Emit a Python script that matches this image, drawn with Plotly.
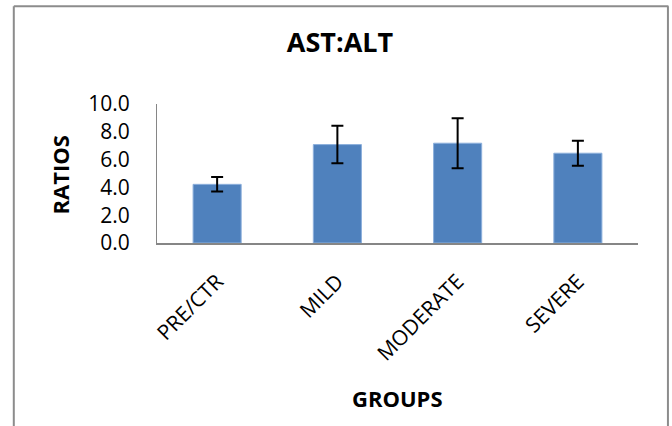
import plotly.graph_objects as go

groups = ["PRE/CTR", "MILD", "MODERATE", "SEVERE"]
ratios = [4.22, 7.08, 7.18, 6.46]
errors = [0.52, 1.35, 1.8, 0.9]

# plot-area geometry in pixels (for layout only)
W, H = 672, 426
L, R, T, B = 156.5, 638.5, 104.0, 243.3
pw, ph = R - L, B - T

def px_x(x):
    return (x - L) / pw

def px_y(y):
    return (B - y) / ph

FONT = "Open Sans"

fig = go.Figure()
fig.add_trace(go.Bar(
    x=groups, y=ratios,
    marker=dict(color="#4F81BD", line=dict(color="#8DB0DC", width=1)),
    error_y=dict(type="data", array=errors, visible=True, color="black", thickness=2, width=6),
    width=0.4,
))

fig.update_layout(
    width=W, height=H,
    margin=dict(l=L, r=W - R, t=T, b=H - B, pad=0),
    paper_bgcolor="white", plot_bgcolor="white",
    showlegend=False,
    font=dict(family=FONT, color="black"),
    title=dict(text="<b>AST:ALT</b>", x=340 / W, xref="container", xanchor="center",
               y=1 - 43 / H, yref="container", yanchor="middle",
               font=dict(family=FONT, size=27, color="black")),
    xaxis=dict(showline=True, linecolor="#868686", linewidth=2, ticks="", showgrid=False,
               tickangle=-45, tickfont=dict(family=FONT, size=21, color="black"),
               ticklabelstandoff=16, range=[-0.5, 3.5], automargin=False),
    yaxis=dict(range=[0, 10], dtick=2, tickformat=".1f", showline=True, linecolor="#868686",
               linewidth=1, ticks="", showgrid=False, zeroline=False, automargin=False,
               tickfont=dict(family=FONT, size=21, color="black"), ticklabelstandoff=22),
    annotations=[
        dict(text="<b>RATIOS</b>", x=px_x(59), y=px_y(175), xref="paper", yref="paper",
             textangle=-90, showarrow=False, font=dict(family=FONT, size=22, color="black"),
             xanchor="center", yanchor="middle"),
        dict(text="<b>GROUPS</b>", x=px_x(397), y=px_y(399), xref="paper", yref="paper",
             showarrow=False, font=dict(family=FONT, size=22, color="black"),
             xanchor="center", yanchor="middle"),
    ],
    shapes=[
        dict(type="line", xref="paper", yref="paper", x0=px_x(13), x1=px_x(669), y0=px_y(6), y1=px_y(6),
             line=dict(color="#8C8C8C", width=2), layer="above"),
        dict(type="line", xref="paper", yref="paper", x0=px_x(13), x1=px_x(13), y0=px_y(440), y1=px_y(6),
             line=dict(color="#8C8C8C", width=2), layer="above"),
        dict(type="line", xref="paper", yref="paper", x0=px_x(668.5), x1=px_x(668.5), y0=px_y(440), y1=px_y(6),
             line=dict(color="#8C8C8C", width=2), layer="above"),
    ],
)

fig.write_html("out.html", config={"displayModeBar": False},
               post_script="document.body.style.margin='0';document.body.style.overflow='hidden';")
